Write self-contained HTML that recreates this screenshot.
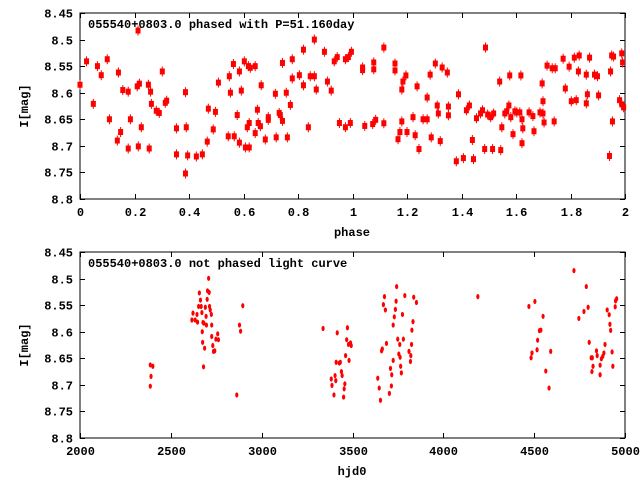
<!DOCTYPE html>
<html><head><meta charset="utf-8"><style>
body{margin:0;background:#fff}
svg{display:block}
text{font-family:"Liberation Mono",monospace;font-size:12px;font-weight:bold;fill:#000}
</style></head><body>
<svg id="c" width="640" height="480" xmlns="http://www.w3.org/2000/svg"></svg>
<script>
const phaseVals=[0.000,0.024,0.049,0.064,0.078,0.100,0.108,0.137,0.141,0.149,0.157,0.177,0.177,0.185,0.210,0.213,0.214,0.218,0.225,0.251,0.254,0.259,0.262,0.280,0.291,0.302,0.313,0.318,0.354,0.354,0.387,0.387,0.390,0.395,0.427,0.449,0.467,0.471,0.489,0.497,0.508,0.544,0.548,0.552,0.563,0.566,0.577,0.585,0.585,0.592,0.603,0.607,0.614,0.621,0.618,0.621,0.625,0.643,0.643,0.651,0.654,0.662,0.665,0.680,0.691,0.691,0.717,0.720,0.731,0.735,0.743,0.743,0.757,0.761,0.772,0.779,0.779,0.805,0.820,0.820,0.838,0.845,0.860,0.860,0.867,0.897,0.908,0.922,0.933,0.944,0.952,0.974,0.974,0.985,0.992,0.996,
1.037,1.037,1.045,1.074,1.078,1.078,1.085,1.115,1.115,1.156,1.156,1.167,1.174,1.181,1.181,1.185,1.196,1.200,1.222,1.230,1.237,1.244,1.259,1.274,1.274,1.289,1.285,1.304,1.311,1.315,1.322,1.329,1.348,1.352,1.352,1.381,1.389,1.407,1.418,1.429,1.440,1.444,1.455,1.470,1.477,1.485,1.488,1.496,1.507,1.514,1.518,1.540,1.544,1.548,1.559,1.566,1.574,1.577,1.581,1.589,1.596,1.603,1.614,1.618,1.622,1.622,1.625,1.648,1.662,1.666,1.688,1.696,1.699,1.699,1.703,1.714,1.733,1.744,1.740,1.773,1.781,1.795,1.803,1.814,1.821,1.829,1.832,1.858,1.858,1.862,1.870,1.888,1.899,1.903,1.943,1.947,1.951,1.954,1.958,1.980,1.988,1.991,1.988,1.995];
const phaseMags=[8.585,8.541,8.621,8.550,8.567,8.537,8.650,8.690,8.562,8.674,8.595,8.598,8.705,8.650,8.588,8.483,8.701,8.583,8.665,8.585,8.705,8.598,8.621,8.634,8.638,8.560,8.619,8.615,8.667,8.716,8.599,8.752,8.665,8.718,8.720,8.716,8.692,8.630,8.669,8.636,8.581,8.682,8.569,8.600,8.546,8.682,8.642,8.560,8.694,8.596,8.541,8.703,8.665,8.657,8.550,8.703,8.553,8.676,8.550,8.632,8.657,8.663,8.586,8.688,8.646,8.651,8.602,8.684,8.638,8.642,8.653,8.544,8.600,8.684,8.623,8.573,8.537,8.567,8.519,8.586,8.665,8.569,8.500,8.569,8.594,8.523,8.579,8.596,8.541,8.533,8.657,8.537,8.665,8.533,8.657,8.523,
8.5525,8.5575,8.6625,8.659,8.543,8.556,8.651,8.515,8.6575,8.545,8.558,8.6875,8.674,8.654,8.594,8.579,8.5675,8.674,8.646,8.680,8.588,8.706,8.650,8.650,8.609,8.684,8.566,8.545,8.624,8.639,8.691,8.5525,8.562,8.626,8.6425,8.729,8.603,8.723,8.633,8.624,8.689,8.725,8.648,8.639,8.633,8.706,8.515,8.641,8.646,8.706,8.639,8.579,8.708,8.665,8.639,8.635,8.624,8.5675,8.646,8.678,8.635,8.637,8.637,8.5675,8.650,8.695,8.667,8.637,8.644,8.6725,8.637,8.5825,8.639,8.616,8.656,8.549,8.554,8.554,8.654,8.536,8.592,8.551,8.616,8.534,8.614,8.560,8.530,8.620,8.566,8.603,8.534,8.566,8.569,8.605,8.719,8.560,8.530,8.654,8.532,8.614,8.526,8.543,8.622,8.6275];
const hjdVals=[2387,2401,2391,2387,2622,2644,2616,2634,2647,2657,2653,2663,2667,2671,2677,2682,2673,2675,2686,2680,2690,2694,2696,2700,2702,2708,2711,2713,2717,2723,2725,2725,2731,2735,2742,2748,2758,2762,2863,2878,2884,2896,3338,3383,3387,3398,3404,3408,3410,3416,3427,3433,3439,3443,3451,3454,3458,3462,3468,3472,3478,3481,3489,3493,3639,3647,3654,3660,3664,3670,3676,3681,3687,3703,3709,3714,3716,3724,3724,3730,3736,3740,3743,3749,3755,3760,3762,3765,3769,3775,3780,3788,3811,3819,3821,3825,3827,3833,3837,3852,4190,4471,4483,4488,4504,4516,4519,4529,4537,4549,4564,4582,4591,4719,4746,4774,4787,4797,4803,4814,4820,4824,4818,4843,4847,4863,4863,4870,4878,4884,4890,4902,4913,4917,4921,4933,4929,4946,4948,4954];
const hjdMags=[8.6625,8.665,8.684,8.7025,8.565,8.5675,8.578,8.578,8.582,8.527,8.5525,8.5405,8.5525,8.564,8.5825,8.584,8.600,8.620,8.631,8.666,8.554,8.571,8.5875,8.539,8.523,8.4995,8.526,8.5525,8.559,8.5675,8.5875,8.609,8.626,8.637,8.636,8.614,8.604,8.615,8.719,8.5875,8.599,8.551,8.594,8.689,8.701,8.719,8.6825,8.692,8.6575,8.602,8.659,8.6575,8.675,8.6825,8.723,8.7075,8.698,8.645,8.615,8.5925,8.624,8.654,8.621,8.626,8.6875,8.706,8.729,8.636,8.6325,8.549,8.534,8.559,8.622,8.716,8.669,8.702,8.681,8.654,8.5875,8.572,8.558,8.5425,8.515,8.614,8.642,8.624,8.648,8.665,8.6775,8.5675,8.614,8.532,8.637,8.656,8.645,8.624,8.597,8.581,8.535,8.545,8.534,8.5525,8.649,8.640,8.543,8.634,8.616,8.598,8.597,8.571,8.674,8.706,8.637,8.485,8.575,8.562,8.515,8.554,8.620,8.649,8.649,8.665,8.675,8.636,8.645,8.663,8.681,8.651,8.646,8.640,8.624,8.559,8.568,8.586,8.5975,8.665,8.638,8.553,8.542,8.538];
const yTickLabels=["8.45","8.5","8.55","8.6","8.65","8.7","8.75","8.8"];
const yTickVals=[8.45,8.5,8.55,8.6,8.65,8.7,8.75,8.8];
const phaseTicks=[0,0.2,0.4,0.6,0.8,1,1.2,1.4,1.6,1.8,2];
const phaseTickLabels=["0","0.2","0.4","0.6","0.8","1","1.2","1.4","1.6","1.8","2"];
const hjdTicks=[2000,2500,3000,3500,4000,4500,5000];

const svg=document.getElementById('c');
const NS='http://www.w3.org/2000/svg';
function mk(tag,attrs,parent){const e=document.createElementNS(NS,tag);for(const k in attrs)e.setAttribute(k,attrs[k]);(parent||svg).appendChild(e);return e;}

function panel(opt){
  const g=mk('g',{});
  
  
  const L=80,R=625,T=opt.top,B=opt.bottom;
  const sx=v=>L+(v-opt.xmin)/(opt.xmax-opt.xmin)*(R-L);
  const sy=v=>T+(v-8.45)/(0.35)*(B-T);
  const fr=mk('rect',{x:L,y:T,width:R-L,height:B-T,fill:'none',stroke:'#000','stroke-width':1},g);
  
  
  yTickVals.forEach((v,i)=>{
    const y=Math.round(sy(v))+0.5;
    mk('line',{x1:L,x2:L+5,y1:y,y2:y,stroke:'#000'},g);
    mk('line',{x1:R-5,x2:R,y1:y,y2:y,stroke:'#000'},g);
    const t=mk('text',{x:L-7,y:y+4,'text-anchor':'end'},g);
    
    
    t.textContent=yTickLabels[i];
  });
  opt.xt.forEach((v,i)=>{
    const x=Math.round(sx(v))+0.5;
    mk('line',{x1:x,x2:x,y1:B,y2:B-5,stroke:'#000'},g);
    mk('line',{x1:x,x2:x,y1:T,y2:T+5,stroke:'#000'},g);
    const t=mk('text',{x:x,y:B+17,'text-anchor':'middle'},g);
    
    
    t.textContent=opt.xl[i];
  });
  const ti=mk('text',{x:88,y:T+15},g);
  
  
  ti.textContent=opt.title;
  const xa=mk('text',{x:352,y:B+37,'text-anchor':'middle'},g);
  
  
  xa.textContent=opt.xlabel;
  const cy=(T+B)/2;
  const ya=mk('text',{x:28,y:cy,'text-anchor':'middle',transform:'rotate(-90 28 '+cy+')'},g);
  
  
  ya.textContent='I[mag]';
  const pts=mk('g',{fill:'#ff0000',stroke:'#ff0000'},g);
  
  
  opt.xs.forEach((v,i)=>{
    const x=sx(v),y=sy(opt.ys[i]);
    let m;
    if(opt.big){
      m=mk('g',{},pts);
      mk('rect',{x:x-2.5,y:y-3,width:5,height:6,stroke:'none'},m);
      mk('line',{x1:x,x2:x,y1:y-5,y2:y+5,'stroke-width':1},m);
    } else {
      m=mk('ellipse',{cx:x,cy:y,rx:1.6,ry:2.6,stroke:'none'},pts);
    }
    
    
  });
}
panel({name:'phased-panel',top:13,bottom:199,xmin:0,xmax:2,xt:phaseTicks,xl:phaseTickLabels,title:'055540+0803.0 phased with P=51.160day',xlabel:'phase',xs:phaseVals,ys:phaseMags,big:true});
panel({name:'unphased-panel',top:252,bottom:438,xmin:2000,xmax:5000,xt:hjdTicks,xl:hjdTicks.map(String),title:'055540+0803.0 not phased light curve',xlabel:'hjd0',xs:hjdVals,ys:hjdMags,big:false});
</script>
</body></html>
